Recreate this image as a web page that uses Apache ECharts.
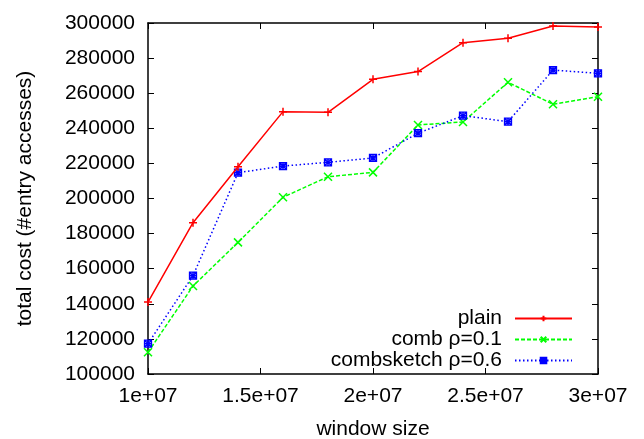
<!DOCTYPE html>
<html>
<head>
    <meta charset="utf-8">
    <title>total cost vs window size</title>
    <script src="https://cdn.jsdelivr.net/npm/echarts@6/dist/echarts.min.js"></script>
    <style>
        html, body { margin: 0; padding: 0; background: #fff; }
    </style>
</head>
<body>
    <div id="main" style="width: 644px;height:439px;"></div>
    <script type="text/javascript">
        // x positions (window size)
        var windowSize = [1e7, 1.2e7, 1.4e7, 1.6e7, 1.8e7, 2e7, 2.2e7, 2.4e7, 2.6e7, 2.8e7, 3e7];
        // series values
        var plain = [141000, 186200, 218100, 249500, 249100, 267900, 272300, 288800, 291300, 298300, 297700];
        var comb = [112400, 150100, 175000, 200700, 212400, 214900, 241900, 243600, 266200, 253700, 258000];
        var combsketch = [117300, 156000, 214700, 218500, 220600, 223100, 237200, 247200, 243800, 273200, 271300];
        // tick labels
        var xTicks = [1e7, 1.5e7, 2e7, 2.5e7, 3e7];
        var xTickLabels = ['1e+07', '1.5e+07', '2e+07', '2.5e+07', '3e+07'];

        var font = "'Liberation Sans', Helvetica, Arial, sans-serif";

        function pairs(ys) {
            var out = [];
            for (var i = 0; i < windowSize.length; i++) {
                out.push([windowSize[i], ys[i]]);
            }
            return out;
        }

        // gnuplot style point markers (stroked paths)
        var plusMark = 'path://M0,5 L10,5 M5,0 L5,10';
        var crossMark = 'path://M0,0 L10,10 M10,0 L0,10';
        var starMark = 'path://M0,0 L10,10 M10,0 L0,10 M0,5 L10,5 M5,0 L5,10 M0,0 L10,0 L10,10 L0,10 Z';

        var myChart = echarts.init(document.getElementById('main'));

        var axisLine = { show: true, lineStyle: { color: '#000', width: 1.5 } };
        var tickIn = { show: true, inside: true, length: 6, lineStyle: { color: '#000', width: 1 } };

        var option = {
            backgroundColor: '#fff',
            animation: false,
            grid: { left: 148, right: 46, top: 23, bottom: 65, containLabel: false, outerBoundsMode: 'none' },
            legend: {
                orient: 'vertical',
                align: 'right',
                right: 71,
                top: 308,
                padding: 0,
                itemGap: 0,
                itemWidth: 57,
                itemHeight: 7,
                textStyle: { fontFamily: font, fontSize: 21, color: '#000', lineHeight: 21, padding: [0, 8, 0, 0] },
                data: ['plain', 'comb ρ=0.1', 'combsketch ρ=0.6']
            },
            xAxis: [{
                type: 'value',
                min: 1e7,
                max: 3e7,
                interval: 5e6,
                name: 'window size',
                nameLocation: 'middle',
                nameGap: 45,
                nameTextStyle: { fontFamily: font, fontSize: 21, color: '#000' },
                axisLine: axisLine,
                axisTick: tickIn,
                splitLine: { show: false },
                axisLabel: {
                    fontFamily: font, fontSize: 21, color: '#000', margin: 12,
                    formatter: function (v) {
                        var i = xTicks.indexOf(v);
                        return i >= 0 ? xTickLabels[i] : '';
                    }
                }
            }, {
                type: 'value',
                position: 'top',
                min: 1e7,
                max: 3e7,
                interval: 5e6,
                axisLine: axisLine,
                axisTick: tickIn,
                axisLabel: { show: false },
                splitLine: { show: false }
            }],
            yAxis: [{
                type: 'value',
                min: 100000,
                max: 300000,
                interval: 20000,
                name: 'total cost (#entry accesses)',
                nameLocation: 'middle',
                nameGap: 112,
                nameTextStyle: { fontFamily: font, fontSize: 21, color: '#000' },
                axisLine: axisLine,
                axisTick: tickIn,
                splitLine: { show: false },
                axisLabel: {
                    fontFamily: font, fontSize: 21, color: '#000', margin: 13,
                    formatter: function (v) { return String(v); }
                }
            }, {
                type: 'value',
                position: 'right',
                min: 100000,
                max: 300000,
                interval: 20000,
                axisLine: axisLine,
                axisTick: tickIn,
                axisLabel: { show: false },
                splitLine: { show: false }
            }],
            series: [{
                name: 'plain',
                type: 'line',
                data: pairs(plain),
                symbol: plusMark,
                symbolSize: 8,
                showAllSymbol: true,
                color: '#ff0000',
                lineStyle: { color: '#ff0000', width: 1.5, type: 'solid' },
                itemStyle: { color: '#ff0000', borderColor: '#ff0000', borderWidth: 1.5 },
                z: 3
            }, {
                name: 'comb ρ=0.1',
                type: 'line',
                data: pairs(comb),
                symbol: crossMark,
                symbolSize: 8,
                showAllSymbol: true,
                color: '#00ff00',
                lineStyle: { color: '#00ff00', width: 1.5, type: [4, 2] },
                itemStyle: { color: '#00ff00', borderColor: '#00ff00', borderWidth: 1.5 },
                z: 2
            }, {
                name: 'combsketch ρ=0.6',
                type: 'line',
                data: pairs(combsketch),
                symbol: starMark,
                symbolSize: 7,
                showAllSymbol: true,
                color: '#0000ff',
                lineStyle: { color: '#0000ff', width: 1.5, type: [1.5, 2.5] },
                itemStyle: { color: 'rgba(0,0,255,0.35)', borderColor: '#0000ff', borderWidth: 1.3 },
                z: 2
            }]
        };

        myChart.setOption(option);
    </script>
</body>
</html>
